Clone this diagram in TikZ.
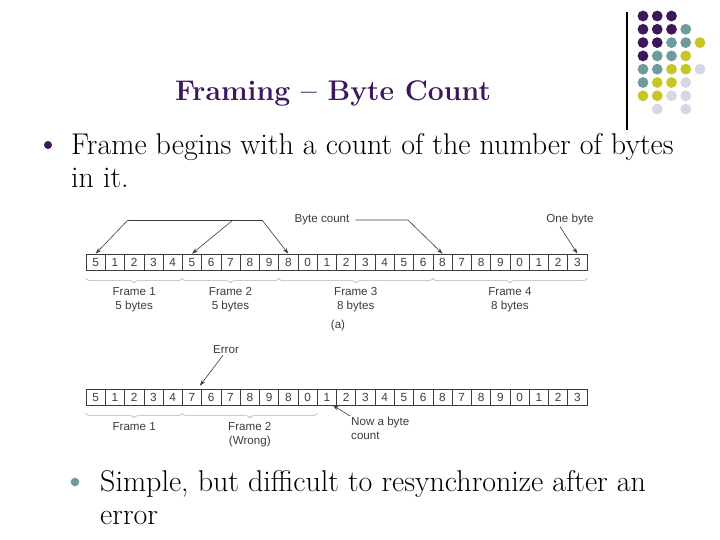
\documentclass[tikz,border=0pt]{standalone}
\usepackage{fontspec}
\newfontfamily\figfont{Liberation Sans}
\usetikzlibrary{positioning, calc, arrows.meta, decorations.pathreplacing}
\definecolor{slidepurple}{RGB}{62, 22, 92}
\definecolor{slideteal}{RGB}{110, 155, 155}
\definecolor{slideyellow}{RGB}{200, 198, 36}
\definecolor{slidelilac}{RGB}{214, 214, 230}
\definecolor{figgray}{RGB}{60, 60, 60}

\begin{document}
\begin{tikzpicture}[x=1pt, y=-1pt,
  cell/.style={draw=figgray, line width=0.6pt, minimum width=19.27pt, minimum height=16pt, inner sep=0pt, font=\figfont\fontsize{11.8}{12}\selectfont, text=figgray},
  lbl/.style={font=\figfont\fontsize{11.6}{14}\selectfont, text=figgray, align=center, inner sep=1pt},
  lead/.style={draw=figgray, line width=0.6pt},
  arr/.style={lead, -{Stealth[length=6pt, width=4pt]}},
  brc/.style={draw=gray!60, line width=0.6pt, decorate, decoration={brace, amplitude=4.5pt}},
  bodytext/.style={anchor=base west, inner sep=0pt, font=\fontsize{30}{33}\selectfont}
]
  \useasboundingbox[fill=white] (0,0) rectangle (720,540);

  % corner decoration
  \draw[line width=1.2pt] (627,12) -- (627,130);
  \foreach \c/\r/\col in {0/0/slidepurple, 1/0/slidepurple, 2/0/slidepurple,
      0/1/slidepurple, 1/1/slidepurple, 2/1/slidepurple, 3/1/slideteal,
      0/2/slidepurple, 1/2/slidepurple, 2/2/slideteal, 3/2/slideteal, 4/2/slideyellow,
      0/3/slidepurple, 1/3/slideteal, 2/3/slideteal, 3/3/slideyellow,
      0/4/slideteal, 1/4/slideteal, 2/4/slideyellow, 3/4/slideyellow, 4/4/slidelilac,
      0/5/slideteal, 1/5/slideyellow, 2/5/slideyellow, 3/5/slidelilac,
      0/6/slideyellow, 1/6/slideyellow, 2/6/slidelilac, 3/6/slidelilac,
      1/7/slidelilac, 3/7/slidelilac}
    \fill[\col] (643+14.25*\c, 16+13.3*\r) circle (5.4);

  % title and bullets
  \node[font=\bfseries\fontsize{28.4}{32}\selectfont, text=slidepurple, anchor=base] (title) at (333,101) {Framing -- Byte Count};
  \fill[slidepurple] (48,145) circle (4);
  \node[bodytext] (l1) at (71,155) {Frame begins with a count of the number of bytes};
  \node[bodytext] (l2) at (71,188) {in it.};
  \fill[slideteal] (75,482) circle (4.3);
  \node[bodytext] (l3) at (100,491) {Simple, but difficult to resynchronize after an};
  \node[bodytext] (l4) at (100,524) {error};

  % (a) correct stream
  \foreach \v [count=\i from 0] in {5,1,2,3,4,5,6,7,8,9,8,0,1,2,3,4,5,6,8,7,8,9,0,1,2,3}
    \node[cell] (a\i) at (95.63+19.27*\i, 262) {\v};
  \draw[brc] ([yshift=-8pt]a4.south east) -- node[lbl, below=8pt] {Frame 1\\5 bytes} ([yshift=-8pt]a0.south west);
  \draw[brc] ([yshift=-8pt]a9.south east) -- node[lbl, below=8pt] {Frame 2\\5 bytes} ([yshift=-8pt]a5.south west);
  \draw[brc] ([yshift=-8pt]a17.south east) -- node[lbl, below=8pt] {Frame 3\\8 bytes} ([yshift=-8pt]a10.south west);
  \draw[brc] ([yshift=-8pt]a25.south east) -- node[lbl, below=8pt] {Frame 4\\8 bytes} ([yshift=-8pt]a18.south west);
  \node[lbl] (capa) at (338,325) {(a)};

  \node[lbl] (bcnt) at (322,220) {Byte count};
  \node[lbl] (onebyte) at (570,220) {One byte};
  \coordinate (k0) at (128,220);
  \coordinate (k1) at (233,220);
  \coordinate (k2) at (262,220);
  \coordinate (k3) at (408,220);
  \draw[lead] (k0) -- (k2);
  \draw[arr] (k0) -- (a0.north);
  \draw[arr] (k1) -- (a5.north);
  \draw[arr] (k2) -- (a10.north);
  \draw[arr] ([xshift=5pt]bcnt.east) -- (k3) -- (a18.north);
  \draw[arr] ([xshift=-10pt]onebyte.south) -- (a25.north);

  % (b) stream with error
  \foreach \v [count=\i from 0] in {5,1,2,3,4,7,6,7,8,9,8,0,1,2,3,4,5,6,8,7,8,9,0,1,2,3}
    \node[cell] (b\i) at (95.63+19.27*\i, 397) {\v};
  \draw[brc] ([yshift=-8pt]b4.south east) -- node[lbl, below=8pt] {Frame 1} ([yshift=-8pt]b0.south west);
  \draw[brc] ([yshift=-8pt]b11.south east) -- node[lbl, below=8pt] {Frame 2\\(Wrong)} ([yshift=-8pt]b5.south west);

  \node[lbl] (err) at (226,350) {Error};
  \draw[arr] ([xshift=-3pt]err.south) -- ([shift={(-2pt,3pt)}]b5.north east);
  \node[lbl, align=left, anchor=north west] (nbc) at (350,416) {Now a byte\\count};
  \draw[arr] (nbc.north west) -- ([xshift=-4pt]b12.south east);
\end{tikzpicture}
\end{document}
